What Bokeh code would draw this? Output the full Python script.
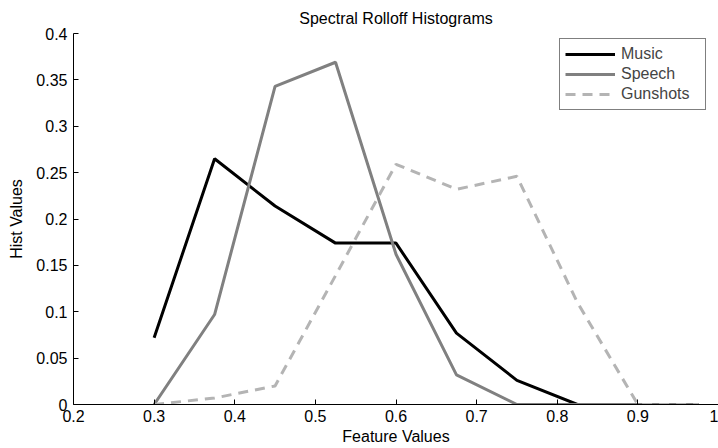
from bokeh.plotting import figure
from bokeh.models import FixedTicker, Range1d, Legend, LegendItem
from bokeh.embed import file_html
from bokeh.resources import INLINE

# Data
bins = [0.3, 0.375, 0.45, 0.525, 0.6, 0.675, 0.75, 0.825, 0.9, 0.975]
music = [0.072, 0.265, 0.214, 0.174, 0.174, 0.077, 0.026, 0.0, 0.0, 0.0]
speech = [0.0, 0.097, 0.343, 0.369, 0.162, 0.032, 0.0, 0.0, 0.0, 0.0]
gunshots = [0.0, 0.007, 0.02, 0.139, 0.259, 0.232, 0.246, 0.11, 0.0, 0.0]

x_ticks = [0.2, 0.3, 0.4, 0.5, 0.6, 0.7, 0.8, 0.9, 1.0]
x_tick_labels = ["0.2", "0.3", "0.4", "0.5", "0.6", "0.7", "0.8", "0.9", "1"]
y_ticks = [0, 0.05, 0.1, 0.15, 0.2, 0.25, 0.3, 0.35, 0.4]
y_tick_labels = ["0", "0.05", "0.1", "0.15", "0.2", "0.25", "0.3", "0.35", "0.4"]

FONT = "Liberation Sans"

p = figure(width=718, height=448, output_backend="svg", toolbar_location=None,
           x_range=Range1d(0.2, 1.0), y_range=Range1d(0, 0.4),
           title="Spectral Rolloff Histograms",
           min_border_left=73, min_border_right=0, min_border_top=33, min_border_bottom=44)

p.outline_line_color = None
p.grid.visible = False
p.background_fill_color = "white"
p.border_fill_color = "white"

p.title.align = "center"
p.title.vertical_align = "top"
p.title.text_font = FONT
p.title.text_font_size = "16px"
p.title.text_font_style = "normal"
p.title.text_color = "black"
p.title.standoff = 10

for ax, ticks, labels in ((p.xaxis[0], x_ticks, x_tick_labels), (p.yaxis[0], y_ticks, y_tick_labels)):
    ax.ticker = FixedTicker(ticks=ticks)
    ax.major_label_overrides = {t: l for t, l in zip(ticks, labels)}
    ax.major_tick_in = 5
    ax.major_tick_out = 0
    ax.minor_tick_line_color = None
    ax.axis_line_color = "black"
    ax.major_tick_line_color = "black"
    ax.major_label_text_font = FONT
    ax.major_label_text_font_size = "16px"
    ax.major_label_text_color = "black"
    ax.axis_label_text_font = FONT
    ax.axis_label_text_font_size = "16px"
    ax.axis_label_text_font_style = "normal"
    ax.axis_label_text_color = "black"

p.xaxis.axis_label = "Feature Values"
p.yaxis.axis_label = "Hist Values"
p.xaxis.major_label_standoff = 5
p.xaxis.axis_label_standoff = 3
p.yaxis.major_label_standoff = 6
p.yaxis.axis_label_standoff = 8

r1 = p.line(bins, music, line_color="black", line_width=3)
r2 = p.line(bins, speech, line_color="#808080", line_width=3)
r3 = p.line(bins, gunshots, line_color="#b4b4b4", line_width=3, line_dash="10 7")

legend = Legend(items=[LegendItem(label="Music", renderers=[r1]),
                       LegendItem(label="Speech", renderers=[r2]),
                       LegendItem(label="Gunshots", renderers=[r3])],
                location=(486, 294))
legend.border_line_color = "black"
legend.border_line_width = 1
legend.background_fill_alpha = 1
legend.label_text_font = FONT
legend.label_text_font_size = "16px"
legend.label_height = 20
legend.glyph_height = 20
legend.glyph_width = 50
legend.label_width = 79
legend.label_standoff = 6
legend.spacing = 0
legend.padding = 5
legend.margin = 0
p.add_layout(legend, "center")

open("out.html", "w").write(file_html(p, INLINE))
